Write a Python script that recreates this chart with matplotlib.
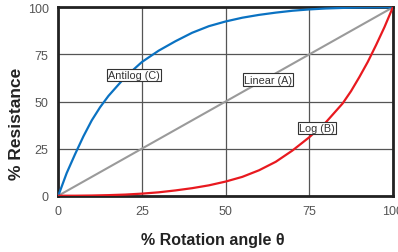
import matplotlib
matplotlib.use("Agg")
import matplotlib.pyplot as plt

rotation_a = [0, 100]
linear_a = [0, 100]
rotation_b = [0, 5, 10, 15, 20, 25, 30, 35, 40, 45, 50, 55, 60, 65, 70, 75, 80, 85, 87.5, 90, 92.5, 95, 97.5, 100]
log_b = [0, 0, 0.1, 0.3, 0.6, 1.1, 1.8, 2.8, 4, 5.5, 7.5, 10, 13.5, 18, 24, 31, 39, 49, 55.5, 63, 71, 80, 89.5, 100]
rotation_c = [0, 2.5, 5, 7.5, 10, 12.5, 15, 20, 25, 30, 35, 40, 45, 50, 55, 60, 65, 70, 75, 80, 85, 90, 95, 100]
antilog_c = [0, 12, 22, 31.5, 40, 47, 53, 63, 71, 77, 82, 86.5, 90, 92.5, 94.5, 96, 97.2, 98.2, 98.9, 99.4, 99.7, 99.9, 100, 100]
ticks = [0, 25, 50, 75, 100]
labels = [("Antilog (C)", 22.7, 64), ("Linear (A)", 62.7, 61.6), ("Log (B)", 77.4, 35.9)]

plt.rcParams['font.family'] = ['Liberation Sans', 'DejaVu Sans']
fig = plt.figure(figsize=(3.98, 2.53), dpi=100)
ax = fig.add_axes([0.1465, 0.2225, 0.8405, 0.7445])

ax.grid(True, color='#555555', linewidth=0.9)
ax.set_axisbelow(True)
ax.plot(rotation_a, linear_a, color='#9a9a9a', linewidth=1.5, zorder=3)
ax.plot(rotation_c, antilog_c, color='#0a72c2', linewidth=1.6, zorder=3)
ax.plot(rotation_b, log_b, color='#e8191f', linewidth=1.6, zorder=3)

for txt, x, y in labels:
    ax.text(x, y, txt, ha='center', va='center', fontsize=7.8, color='#333333', zorder=5,
            bbox=dict(boxstyle='square,pad=0.12', facecolor='white', edgecolor='#333333', linewidth=0.8))

ax.set_xlim(0, 100)
ax.set_ylim(0, 100)
ax.set_xticks(ticks)
ax.set_yticks(ticks)
ax.tick_params(length=0, labelsize=9, labelcolor='#555555', pad=7)
for s in ax.spines.values():
    s.set_linewidth(2)
    s.set_color('#222222')

ax.set_xlabel("% Rotation angle θ", fontsize=11.5, fontweight='bold', color='#222222')
ax.set_ylabel("% Resistance", fontsize=12.5, fontweight='bold', color='#222222')
ax.xaxis.set_label_coords(0.461, -0.193)
ax.yaxis.set_label_coords(-0.1025, 0.389)

fig.savefig("out.png", dpi=100)
